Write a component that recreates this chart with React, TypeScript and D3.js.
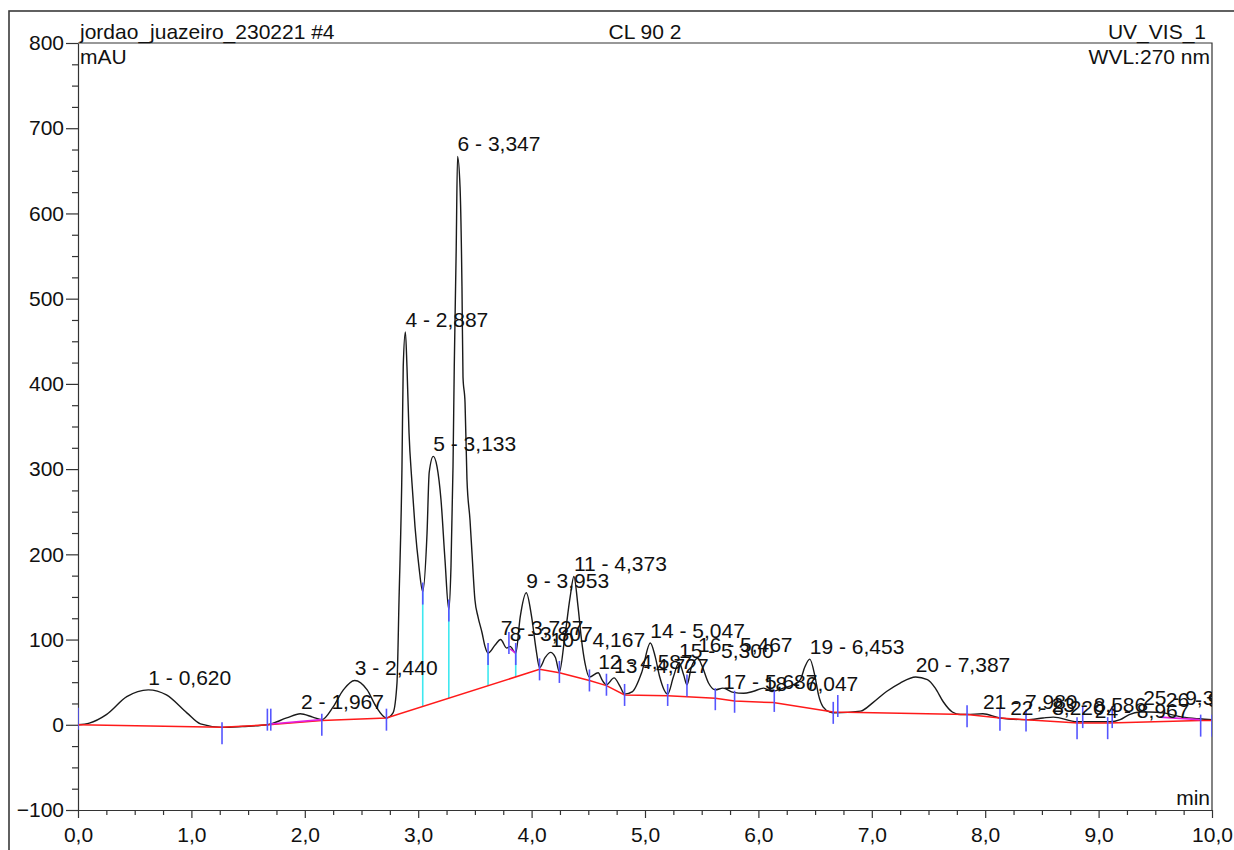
import React, { useEffect, useRef } from "react";
import * as d3 from "d3";

// chromatogram signal: [time (min), mAU]
const signal: [number, number][] = [
  [0.0, 0], [0.1, 2], [0.25, 12], [0.43, 33], [0.62, 41], [0.78, 35], [0.96, 14], [1.08, 1],
  [1.27, -3], [1.45, -2], [1.67, 0], [1.84, 8], [1.96, 13], [2.07, 9], [2.15, 6], [2.25, 21],
  [2.34, 41], [2.44, 52], [2.55, 41], [2.63, 21], [2.72, 8], [2.778, 14], [2.813, 49],
  [2.831, 147], [2.857, 303], [2.868, 420], [2.887, 461], [2.901, 420], [2.919, 343],
  [2.945, 284], [2.972, 232], [3.007, 185], [3.04, 156], [3.078, 225], [3.097, 296],
  [3.133, 315], [3.166, 303], [3.201, 264], [3.236, 194], [3.27, 135], [3.289, 185],
  [3.307, 303], [3.318, 420], [3.335, 557], [3.347, 667], [3.369, 631], [3.386, 514],
  [3.395, 408], [3.413, 378], [3.43, 288], [3.457, 240], [3.475, 200], [3.5, 147],
  [3.527, 127], [3.563, 108], [3.589, 92], [3.616, 84], [3.68, 94], [3.727, 100], [3.78, 90],
  [3.81, 92], [3.86, 84], [3.9, 127], [3.953, 155], [4.0, 127], [4.04, 88], [4.07, 67],
  [4.12, 79], [4.167, 85], [4.21, 79], [4.245, 62], [4.29, 100], [4.34, 150], [4.373, 174],
  [4.41, 138], [4.44, 100], [4.47, 73], [4.51, 56], [4.587, 61], [4.62, 53], [4.66, 47],
  [4.727, 55], [4.78, 45], [4.82, 36], [4.89, 39], [4.97, 61], [5.047, 96], [5.09, 80],
  [5.13, 56], [5.2, 36], [5.25, 56], [5.3, 73], [5.34, 59], [5.37, 47], [5.41, 68],
  [5.467, 78], [5.5, 70], [5.56, 49], [5.62, 41], [5.687, 43], [5.78, 38], [5.87, 37],
  [5.95, 39], [6.047, 43], [6.12, 39], [6.22, 43], [6.31, 47], [6.37, 53], [6.41, 68],
  [6.453, 77], [6.5, 56], [6.53, 35], [6.57, 21], [6.63, 15], [6.68, 14], [6.9, 16],
  [7.01, 26], [7.13, 39], [7.25, 49], [7.387, 56], [7.49, 53], [7.56, 43], [7.63, 27],
  [7.71, 15], [7.78, 12], [7.84, 12], [7.98, 13], [8.13, 8], [8.37, 6], [8.51, 8],
  [8.6, 9], [8.81, 3.5], [9.1, 3.5], [9.19, 6], [9.27, 12], [9.36, 15], [9.45, 15],
  [9.57, 14], [9.74, 9], [9.89, 7], [10.0, 6],
];

const baseline: [number, number][] = [
  [0, 0], [1.27, -3], [1.68, 0], [2.15, 5], [2.72, 8], [4.07, 65], [4.245, 61], [4.51, 52],
  [4.66, 46], [4.82, 35], [5.2, 34], [5.37, 33], [5.62, 31], [5.79, 28], [6.13, 26],
  [6.66, 15], [7.84, 12], [8.13, 8], [8.36, 6], [8.82, 2], [9.09, 2], [9.9, 5], [10, 5],
];

const skimLines: [number, number][][] = [
  [[1.7, 1], [2.15, 6]],
  [[3.81, 89], [3.86, 84]],
  [[9.54, 9], [9.89, 6]],
];

// perpendicular drops: [time, signal value]
const dropLines: [number, number][] = [[3.04, 156], [3.27, 135], [3.616, 84], [3.86, 84]];

// peak delimiters: [time, centre value of the mark]
const delimiters: [number, number][] = [
  [0.0, 7], [1.27, -10], [1.67, 6], [1.7, 6], [2.15, 0], [2.72, 6], [3.04, 154], [3.27, 134],
  [3.616, 83], [3.8, 96], [3.86, 83], [4.07, 65], [4.245, 62], [4.51, 52], [4.66, 47],
  [4.82, 35], [5.2, 35], [5.37, 46], [5.62, 30], [5.79, 27], [6.14, 28], [6.66, 14],
  [6.7, 22], [7.84, 10], [8.13, 6], [8.36, 5], [8.81, -4], [8.86, 9], [9.08, -4], [9.12, 9],
  [9.9, -1], [10.0, -1],
];

const peakNumbers = [1, 2, 3, 4, 5, 6, 7, 8, 9, 10, 11, 12, 13, 14, 15, 16, 17, 18, 19, 20, 21, 22, 23, 24, 25, 26];
const peakTimes = [
  0.62, 1.967, 2.44, 2.887, 3.133, 3.347, 3.727, 3.807, 3.953, 4.167, 4.373, 4.587, 4.727,
  5.047, 5.3, 5.467, 5.687, 6.047, 6.453, 7.387, 7.98, 8.22, 8.586, 8.967, 9.393, 9.593,
];
const peakHeights = [
  41, 13, 52, 461, 315, 667, 100, 92, 155, 85, 174, 59, 55, 96, 73, 80, 36, 34, 77, 56,
  13, 6, 9, 2, 17, 15,
];

const yMajor = d3.range(-100, 801, 100);
const yMinor = d3.range(-100, 800, 25).filter((v) => v % 100 !== 0);
const xMajor = d3.range(0, 11, 1);
const xMinor = d3.range(0, 10, 0.25).filter((v) => v % 1 !== 0);

const W = 1234;
const H = 850;
const box = { left: 78, top: 43, right: 1212, bottom: 810 };
const FONT = "'Liberation Sans', Arial, sans-serif";
const FS = 21;
const INK = "#111";
const AXIS = "#333";

const comma = (f: (n: number) => string) => (n: number) => f(n).replace(".", ",");

export default function App() {
  const ref = useRef<SVGSVGElement>(null);

  useEffect(() => {
    const svg = d3.select(ref.current);
    svg.selectAll("*").remove();

    const x = d3.scaleLinear().domain([0, 10]).range([box.left, box.right]);
    const y = d3.scaleLinear().domain([-100, 800]).range([box.bottom, box.top]);
    const baseAt = d3
      .scaleLinear()
      .domain(baseline.map((d) => d[0]))
      .range(baseline.map((d) => d[1]));

    svg.append("rect").attr("width", W).attr("height", H).attr("fill", "#fff");

    // outer frame
    svg
      .append("rect")
      .attr("x", 9)
      .attr("y", 11)
      .attr("width", 1400)
      .attr("height", 1000)
      .attr("fill", "none")
      .attr("stroke", "#3a3a3a")
      .attr("stroke-width", 1.6);

    svg
      .append("defs")
      .append("clipPath")
      .attr("id", "plotclip")
      .append("rect")
      .attr("x", box.left)
      .attr("y", box.top - 30)
      .attr("width", box.right - box.left)
      .attr("height", box.bottom - box.top + 30);

    // box top & right
    svg
      .append("path")
      .attr("d", `M${box.left},${box.top}H${box.right}V${box.bottom}`)
      .attr("fill", "none")
      .attr("stroke", AXIS)
      .attr("stroke-width", 1.2);

    const styleAxis = (g: d3.Selection<SVGGElement, unknown, null, undefined>) => {
      g.attr("font-family", FONT).attr("font-size", FS);
      g.selectAll("line").attr("stroke", AXIS).attr("stroke-width", 1.2);
      g.selectAll(".domain").attr("stroke", AXIS).attr("stroke-width", 1.2);
      g.selectAll("text").attr("fill", INK);
    };

    // y axis
    svg
      .append("g")
      .attr("transform", `translate(${box.left},0)`)
      .call(
        d3
          .axisLeft(y)
          .tickValues(yMajor)
          .tickSize(12)
          .tickSizeOuter(0)
          .tickPadding(2)
          .tickFormat(d3.format("d"))
      )
      .call(styleAxis);
    svg
      .append("g")
      .attr("transform", `translate(${box.left},0)`)
      .call(d3.axisLeft(y).tickValues(yMinor).tickSize(6).tickFormat(() => ""))
      .call(styleAxis)
      .call((g) => g.select(".domain").remove());

    // x axis
    svg
      .append("g")
      .attr("transform", `translate(0,${box.bottom})`)
      .call(
        d3
          .axisBottom(x)
          .tickValues(xMajor)
          .tickSize(8)
          .tickSizeOuter(0)
          .tickPadding(9)
          .tickFormat(comma(d3.format(".1f")) as any)
      )
      .call(styleAxis);
    svg
      .append("g")
      .attr("transform", `translate(0,${box.bottom})`)
      .call(d3.axisBottom(x).tickValues(xMinor).tickSize(5).tickFormat(() => ""))
      .call(styleAxis)
      .call((g) => g.select(".domain").remove());

    const plot = svg.append("g").attr("clip-path", "url(#plotclip)");

    const line = d3
      .line<[number, number]>()
      .x((d) => x(d[0]))
      .y((d) => y(d[1]));

    // drop lines
    plot
      .selectAll(".drop")
      .data(dropLines)
      .join("line")
      .attr("x1", (d) => x(d[0]))
      .attr("x2", (d) => x(d[0]))
      .attr("y1", (d) => y(d[1]))
      .attr("y2", (d) => y(baseAt(d[0])))
      .attr("stroke", "#3ee8f0")
      .attr("stroke-width", 1.6);

    // signal
    plot
      .append("path")
      .datum(signal)
      .attr("d", line.curve(d3.curveMonotoneX))
      .attr("fill", "none")
      .attr("stroke", "#1a1a1a")
      .attr("stroke-width", 1.4);

    // baseline
    plot
      .append("path")
      .datum(baseline)
      .attr("d", line.curve(d3.curveLinear))
      .attr("fill", "none")
      .attr("stroke", "#ff1a1a")
      .attr("stroke-width", 1.5);

    skimLines.forEach((s) => {
      plot
        .append("path")
        .datum(s)
        .attr("d", line.curve(d3.curveLinear))
        .attr("fill", "none")
        .attr("stroke", "#e020e0")
        .attr("stroke-width", 1.6);
    });

    // delimiters
    plot
      .selectAll(".delim")
      .data(delimiters)
      .join("line")
      .attr("x1", (d) => x(d[0]))
      .attr("x2", (d) => x(d[0]))
      .attr("y1", (d) => y(d[1]) - 11)
      .attr("y2", (d) => y(d[1]) + 11)
      .attr("stroke", "#5555ff")
      .attr("stroke-width", 1.6);

    // peak labels
    const rtFmt = comma(d3.format(".3f"));
    plot
      .selectAll(".peaklabel")
      .data(peakNumbers)
      .join("text")
      .attr("x", (_, i) => x(peakTimes[i]))
      .attr("y", (_, i) => y(peakHeights[i]) - 5)
      .attr("font-family", FONT)
      .attr("font-size", FS)
      .attr("fill", INK)
      .text((n, i) => `${n} - ${rtFmt(peakTimes[i])}`);

    // header texts
    const txt = (tx: number, ty: number, s: string, anchor = "start") =>
      svg
        .append("text")
        .attr("x", tx)
        .attr("y", ty)
        .attr("text-anchor", anchor)
        .attr("font-family", FONT)
        .attr("font-size", FS)
        .attr("fill", INK)
        .text(s);

    txt(box.left + 2, 39, "jordao_juazeiro_230221 #4");
    txt((box.left + box.right) / 2, 39, "CL 90 2", "middle");
    txt(box.right - 6, 39, "UV_VIS_1", "end");
    txt(box.left + 2, 64, "mAU");
    txt(box.right - 2, 64, "WVL:270 nm", "end");
    txt(box.right - 2, 805, "min", "end");
  }, []);

  return (
    <svg
      ref={ref}
      width={W}
      height={H}
      style={{ position: "absolute", left: 0, top: 0, display: "block" }}
    />
  );
}
